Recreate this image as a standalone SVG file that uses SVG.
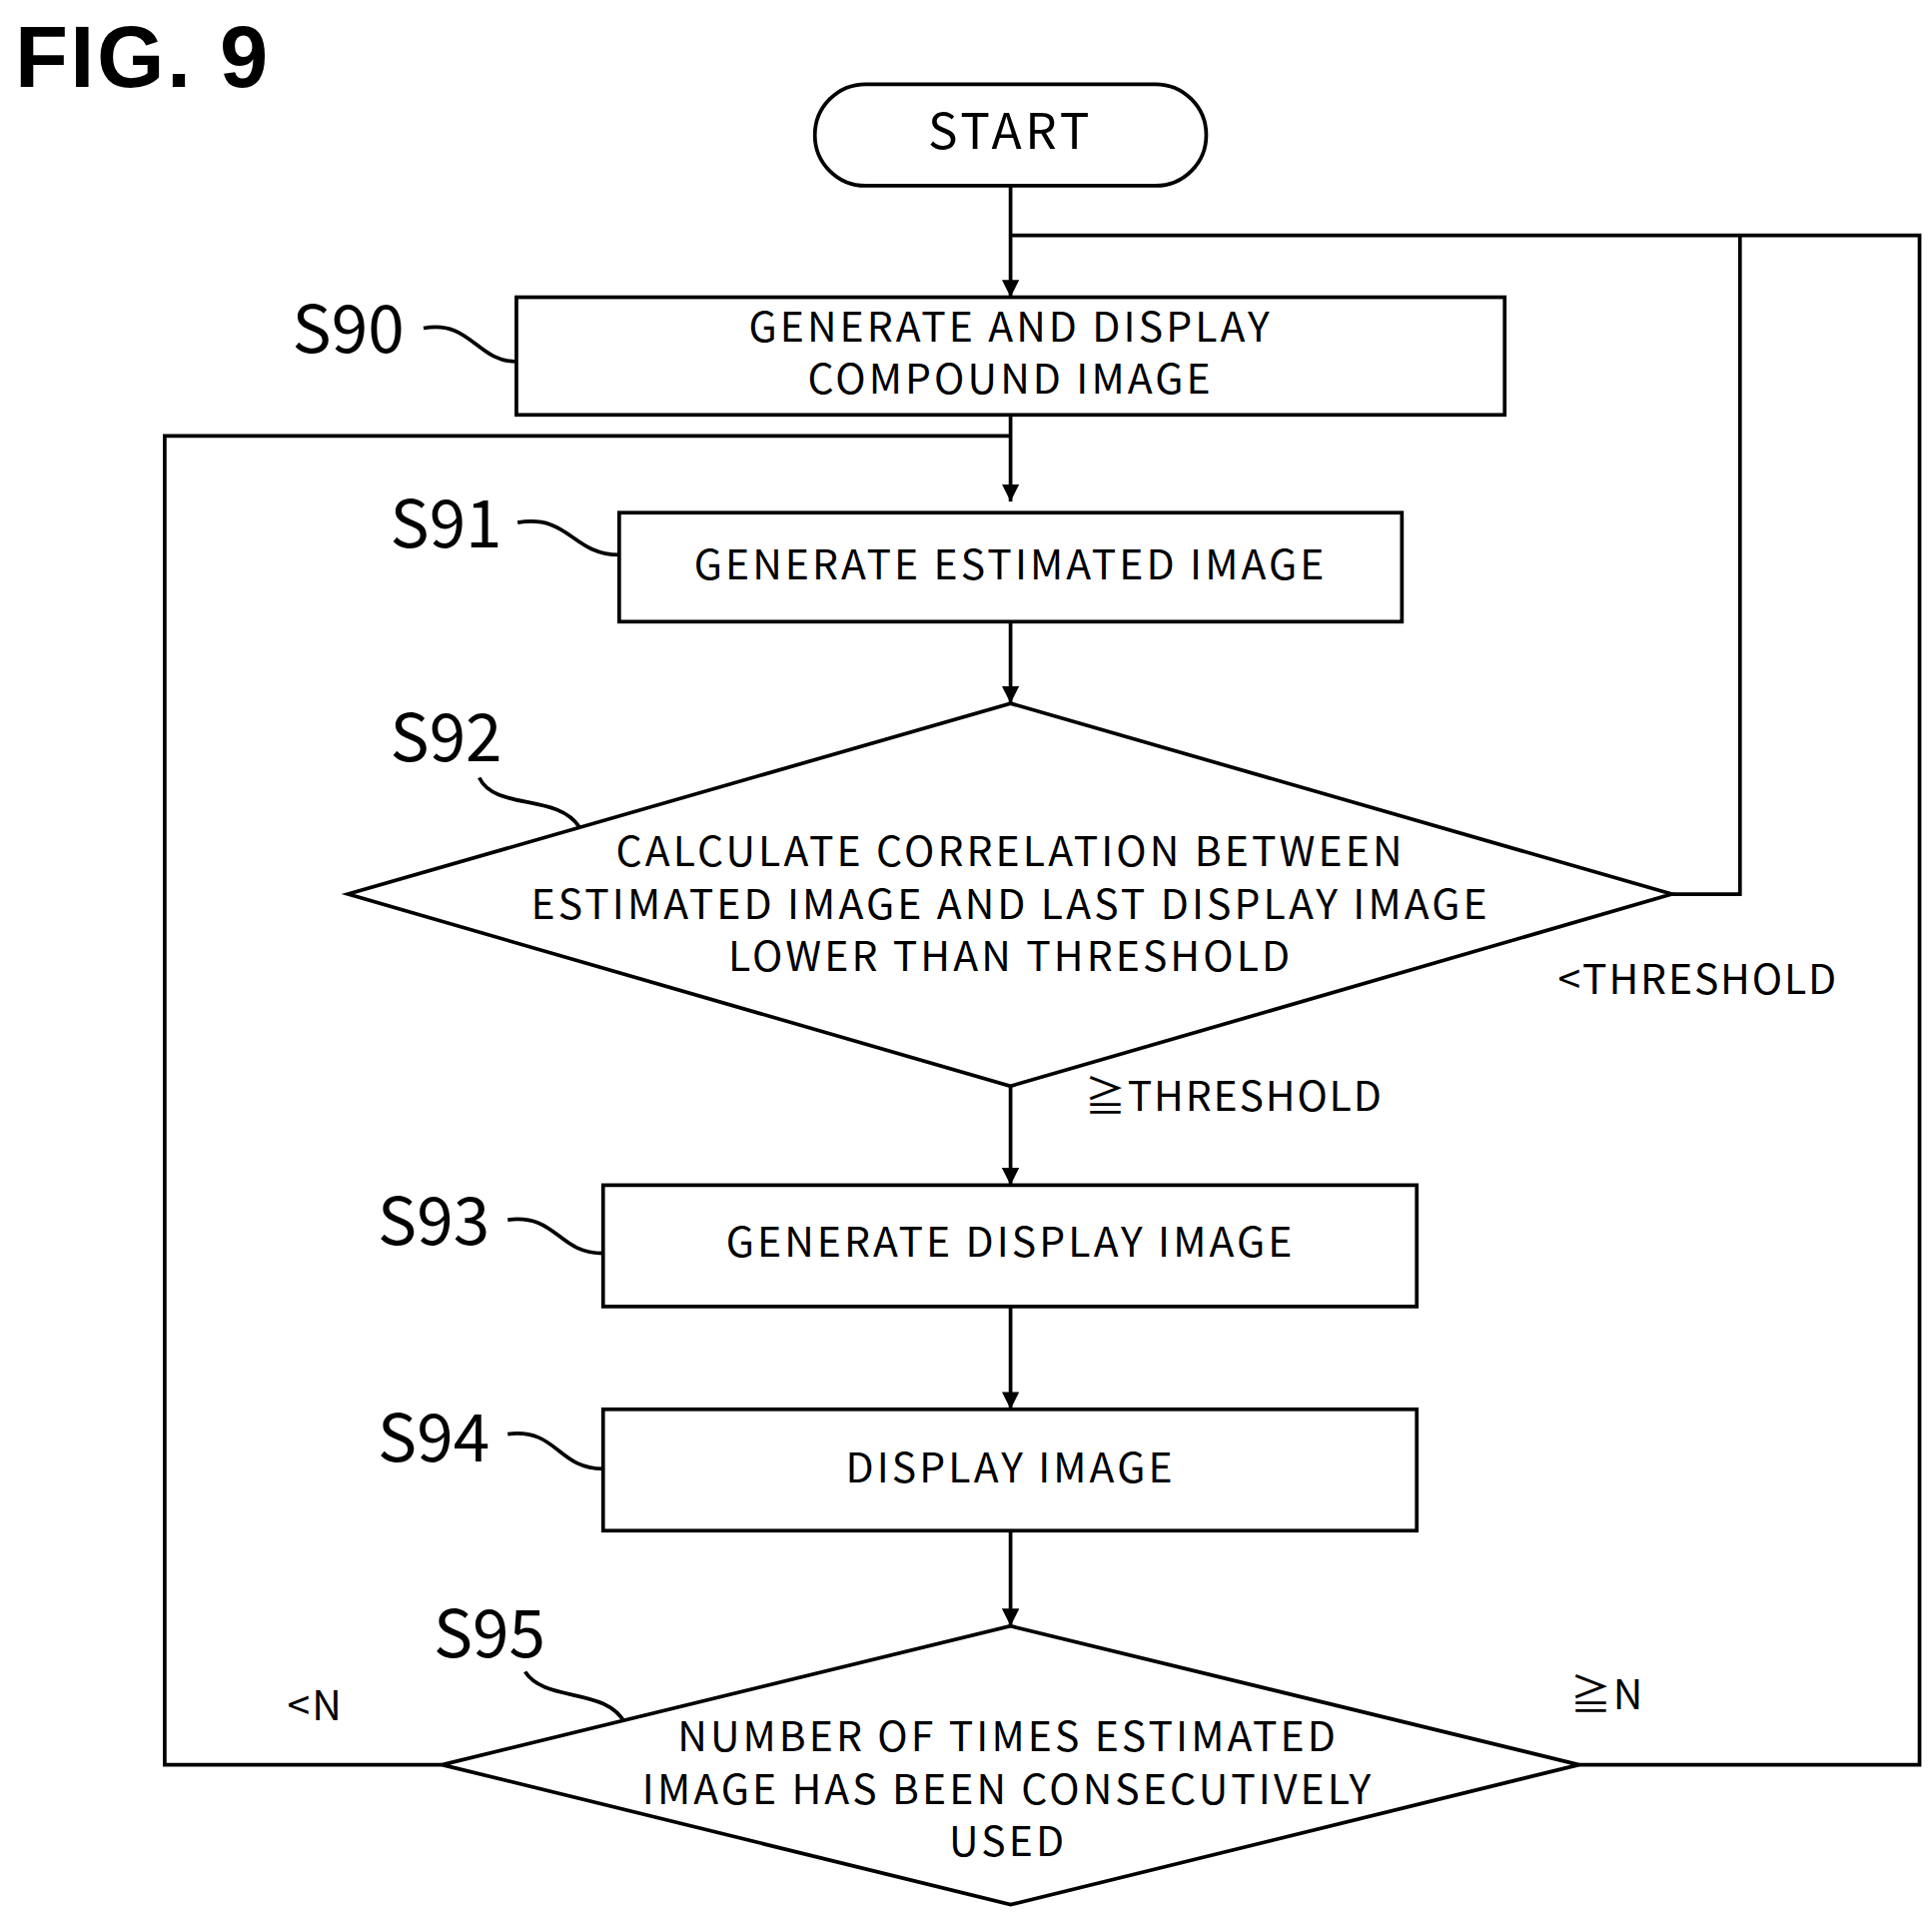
<svg xmlns="http://www.w3.org/2000/svg" width="1934" height="1921" viewBox="0 0 1934 1921">
<defs>
<marker id="ah" viewBox="0 0 10 10" refX="10" refY="5" markerWidth="14" markerHeight="14" markerUnits="userSpaceOnUse" orient="auto"><path d="M0,0 L10,5 L0,10 Z" fill="#000"/></marker>
<style>
.s{fill:#fff;stroke:#000;stroke-width:3}
.t{font-family:"Noto Sans CJK JP","Noto Sans",sans-serif;font-size:33px;letter-spacing:2.5px;text-anchor:middle;fill:#000}
.l{font-family:"Noto Sans CJK JP","Noto Sans",sans-serif;font-size:33px;letter-spacing:1.5px;fill:#000}
.n{font-family:"Noto Sans CJK JP","Noto Sans",sans-serif;font-size:53px;fill:#000}
.c{fill:none;stroke:#000;stroke-width:3}
</style>
</defs>
<rect width="1934" height="1921" fill="#fff"/>
<g transform="scale(1.2397)">
<text x="12" y="70" font-family="Liberation Sans,sans-serif" font-weight="900" font-size="70" letter-spacing="2">FIG. 9</text>
<g id="connectors" class="c">
<path d="M816,150 V240" marker-end="url(#ah)"/>
<path d="M816,190 H1550 V1425 H1275"/>
<path d="M1350,722 H1405 V190"/>
<path d="M816,335 V405" marker-end="url(#ah)"/>
<path d="M357,1425 H133 V352 H816"/>
<path d="M816,502 V568" marker-end="url(#ah)"/>
<path d="M816,877 V957" marker-end="url(#ah)"/>
<path d="M816,1055 V1138" marker-end="url(#ah)"/>
<path d="M816,1236 V1313" marker-end="url(#ah)"/>
<path d="M342,265 C380,258 385,292 417,292"/>
<path d="M418,422 C460,415 462,448 500,448"/>
<path d="M387,628 C400,655 450,640 468,668"/>
<path d="M410,985 C450,980 450,1012 487,1012"/>
<path d="M410,1158 C450,1153 450,1186 487,1186"/>
<path d="M424,1350 C440,1375 490,1362 505,1392"/>
</g>
<g id="start"><rect class="s" x="658" y="68" width="316" height="82" rx="41"/><text class="t" x="816" y="120" style="font-size:40px;letter-spacing:3px">START</text></g>
<g id="s90"><rect class="s" x="417" y="240" width="798" height="95"/><text class="t" x="816" y="276">GENERATE AND DISPLAY</text><text class="t" x="816" y="318">COMPOUND IMAGE</text><text class="n" x="236" y="285">S90</text></g>
<g id="s91"><rect class="s" x="500" y="414" width="632" height="88"/><text class="t" x="816" y="468">GENERATE ESTIMATED IMAGE</text><text class="n" x="315" y="442">S91</text></g>
<g id="s92"><path class="s" d="M816,568 L1350,722 L816,877 L281,722 Z"/><text class="t" x="816" y="699">CALCULATE CORRELATION BETWEEN</text><text class="t" x="816" y="742">ESTIMATED IMAGE AND LAST DISPLAY IMAGE</text><text class="t" x="816" y="784">LOWER THAN THRESHOLD</text><text class="n" x="315" y="615">S92</text></g>
<g id="s93"><rect class="s" x="487" y="957" width="657" height="98"/><text class="t" x="816" y="1015">GENERATE DISPLAY IMAGE</text><text class="n" x="305" y="1005">S93</text></g>
<g id="s94"><rect class="s" x="487" y="1138" width="657" height="98"/><text class="t" x="816" y="1197">DISPLAY IMAGE</text><text class="n" x="305" y="1180">S94</text></g>
<g id="s95"><path class="s" d="M816,1313 L1275,1425 L816,1538 L357,1425 Z"/><text class="t" x="814" y="1414">NUMBER OF TIMES ESTIMATED</text><text class="t" x="814" y="1457">IMAGE HAS BEEN CONSECUTIVELY</text><text class="t" x="814" y="1499">USED</text><text class="n" x="350" y="1338">S95</text></g>
<g id="labels">
<text class="l" x="1258" y="803">&lt;THRESHOLD</text>
<text class="l" x="876" y="897">≧THRESHOLD</text>
<text class="l" x="232" y="1389">&lt;N</text>
<text class="l" x="1268" y="1380">≧N</text>
</g>
</g>
</svg>
